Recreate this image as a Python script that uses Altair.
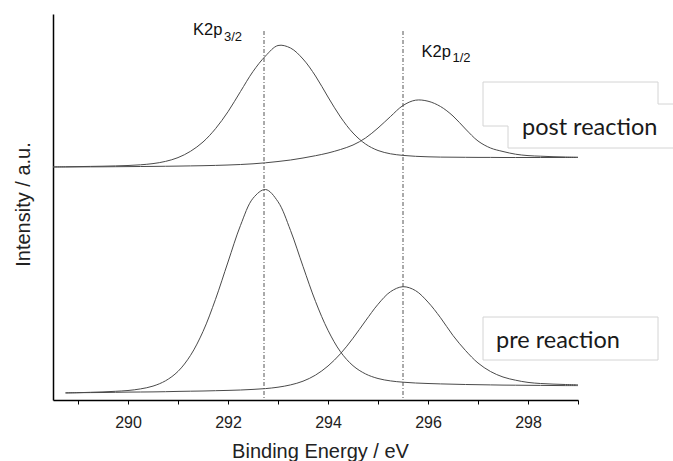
import altair as alt
import pandas as pd

# ---------------- data ----------------
energy = [288.5, 288.75, 289.0, 289.25, 289.5, 289.75, 290.0, 290.25, 290.5, 290.75,
          291.0, 291.25, 291.5, 291.75, 292.0, 292.25, 292.5, 292.75, 293.0, 293.25,
          293.5, 293.75, 294.0, 294.25, 294.5, 294.75, 295.0, 295.25, 295.5, 295.75,
          296.0, 296.25, 296.5, 296.75, 297.0, 297.25, 297.5, 297.75, 298.0, 298.25,
          298.5, 298.75, 299.0]

pre_k2p32 = [None, 7.1, 7.3, 7.7, 8.1, 8.7, 9.5, 11.1, 13.9, 19.2,
             28.6, 44.6, 68.5, 100.7, 138.0, 174.6, 201.7, 210.5, 198.3, 169.6,
             133.6, 98.6, 69.7, 48.2, 34.3, 26.1, 21.5, 19.1, 17.8, 17.0,
             16.5, 16.1, 15.8, 15.5, 15.3, 15.1, 14.9, 14.8, 14.7, 14.6,
             14.5, 14.4, 14.4]

pre_k2p12 = [None, 7.1, 7.3, 7.4, 7.5, 7.7, 7.9, 8.0, 8.1, 8.3,
             8.6, 8.8, 9.0, 9.3, 9.6, 10.0, 10.6, 11.4, 12.8, 15.1,
             18.8, 24.9, 34.0, 46.3, 61.8, 79.1, 95.7, 108.3, 113.3, 109.4,
             97.9, 82.3, 64.5, 49.5, 37.0, 28.5, 23.0, 19.8, 17.6, 16.5,
             15.9, 15.5, 15.2]

post_k2p32 = [233.1, 233.2, 233.4, 233.6, 233.8, 234.1, 234.5, 235.2, 236.4, 238.6,
              242.4, 248.7, 258.0, 271.3, 288.3, 308.5, 328.5, 344.0, 354.5, 352.0,
              341.0, 324.0, 303.0, 283.0, 267.0, 256.0, 249.5, 246.2, 244.6, 243.7,
              243.2, 242.9, 242.8, 242.7, 242.6, 242.6, 242.5, 242.5, 242.5, 242.5,
              242.5, 242.5, 242.5]

post_k2p12 = [233.0, 233.05, 233.1, 233.15, 233.2, 233.3, 233.4, 233.5, 233.6, 233.75,
              233.9, 234.1, 234.3, 234.6, 235.0, 235.5, 236.2, 237.2, 238.5, 240.0,
              242.0, 244.3, 247.0, 250.5, 255.0, 262.0, 272.0, 283.5, 294.5, 299.8,
              298.8, 293.5, 284.0, 271.0, 259.0, 252.0, 248.5, 245.8, 244.4, 243.8,
              243.3, 243.0, 242.8]

line_energy = [292.72, 295.5]
peak_main = ["K2p", "K2p"]
peak_sub = ["3/2", "1/2"]
x_ticks = [289, 290, 291, 292, 293, 294, 295, 296, 297, 298, 299]
sample_names = ["post reaction", "pre reaction"]

# ---------------- tables ----------------
rows = []
for name, vals in [("pre 3/2", pre_k2p32), ("pre 1/2", pre_k2p12),
                   ("post 3/2", post_k2p32), ("post 1/2", post_k2p12)]:
    for e, v in zip(energy, vals):
        if v is not None:
            rows.append({"energy": e, "intensity": v, "curve": name})
df = pd.DataFrame(rows)
df_lines = pd.DataFrame({"energy": line_energy, "main": peak_main, "sub": peak_sub})

FONT = "Liberation Sans"

x_enc = alt.X(
    "energy:Q",
    scale=alt.Scale(domain=[288.5, 299], nice=False, zero=False),
    axis=alt.Axis(
        values=x_ticks, format="d",
        labelExpr="datum.value % 2 == 0 ? datum.label : ''",
        title="Binding Energy / eV", grid=False,
        domainColor="#000", domainWidth=1.5,
        tickColor="#000", tickSize=4, tickWidth=1,
        labelFont=FONT, labelFontSize=16, labelColor="#222", labelPadding=10,
        titleFont=FONT, titleFontSize=20, titleFontWeight="normal", titleColor="#222",
        titleBaseline="alphabetic", titleX=267, titleY=57,
    ),
)
y_enc = alt.Y(
    "intensity:Q",
    scale=alt.Scale(domain=[0, 386], nice=False, zero=False),
    axis=alt.Axis(
        ticks=False, labels=False, grid=False,
        domainColor="#000", domainWidth=1.5,
        title="Intensity / a.u.",
        titleFont=FONT, titleFontSize=20, titleFontWeight="normal", titleColor="#222",
        titleAngle=270, titleBaseline="alphabetic", titleAlign="center",
        titleX=-23.5, titleY=190,
    ),
)

curves = alt.Chart(df).mark_line(
    color="#4a4a4a", strokeWidth=1, interpolate="catmull-rom"
).encode(x=x_enc, y=y_enc, detail="curve:N")

vlines = alt.Chart(df_lines).mark_rule(
    color="#555", strokeWidth=1, strokeDash=[4, 2, 1, 2]
).encode(x=x_enc, y=alt.value(17), y2=alt.value(386))

lab1 = alt.Chart(df_lines).transform_filter(alt.datum.energy < 294)
lab2 = alt.Chart(df_lines).transform_filter(alt.datum.energy > 294)

main1 = lab1.mark_text(font=FONT, fontSize=16.5, color="#111", align="left",
                       baseline="alphabetic", dx=-71).encode(
    x=x_enc, y=alt.value(21), text="main:N")
sub1 = lab1.mark_text(font=FONT, fontSize=13, color="#111", align="left",
                      baseline="alphabetic", dx=-40).encode(
    x=x_enc, y=alt.value(26.5), text="sub:N")
main2 = lab2.mark_text(font=FONT, fontSize=16.5, color="#111", align="left",
                       baseline="alphabetic", dx=18.5).encode(
    x=x_enc, y=alt.value(42.5), text="main:N")
sub2 = lab2.mark_text(font=FONT, fontSize=13, color="#111", align="left",
                      baseline="alphabetic", dx=49.5).encode(
    x=x_enc, y=alt.value(48), text="sub:N")

# annotation frames (pixel geometry of the text boxes)
BOX = "#d4d4d4"
segments = [
    (430, 605, 68, 68), (605, 605, 68, 90), (605, 625, 90, 90),
    (430, 430, 68, 112), (430, 455, 112, 112), (455, 455, 112, 134),
    (455, 625, 134, 134),
    (430, 605, 303, 303), (430, 605, 346, 346), (430, 430, 303, 346), (605, 605, 303, 346),
]
frame_layers = []
for x1, x2, y1, y2 in segments:
    frame_layers.append(
        alt.Chart(df_lines).mark_rule(color=BOX, strokeWidth=1).encode(
            x=alt.value(x1), x2=alt.value(x2), y=alt.value(y1), y2=alt.value(y2)
        ).transform_filter(alt.datum.energy < 294)
    )

names_df = pd.DataFrame({"name": sample_names})
post_txt = alt.Chart(names_df).transform_filter(alt.datum.name == "post reaction").mark_text(
    font="Lato", fontSize=23.5, color="#1a1a1a", align="left", baseline="alphabetic"
).encode(x=alt.value(469), y=alt.value(121), text="name:N")
pre_txt = alt.Chart(names_df).transform_filter(alt.datum.name == "pre reaction").mark_text(
    font="Lato", fontSize=23.5, color="#1a1a1a", align="left", baseline="alphabetic"
).encode(x=alt.value(443), y=alt.value(333.5), text="name:N")

chart = alt.layer(
    *frame_layers, vlines, curves, main1, sub1, main2, sub2, post_txt, pre_txt
).properties(
    width=525, height=386,
    autosize=alt.AutoSizeParams(type="none"),
    padding={"left": 53, "top": 14, "right": 95, "bottom": 61},
    background="white",
).configure_view(stroke=None)

chart.save("out.html", embed_options={"renderer": "svg", "actions": False})
